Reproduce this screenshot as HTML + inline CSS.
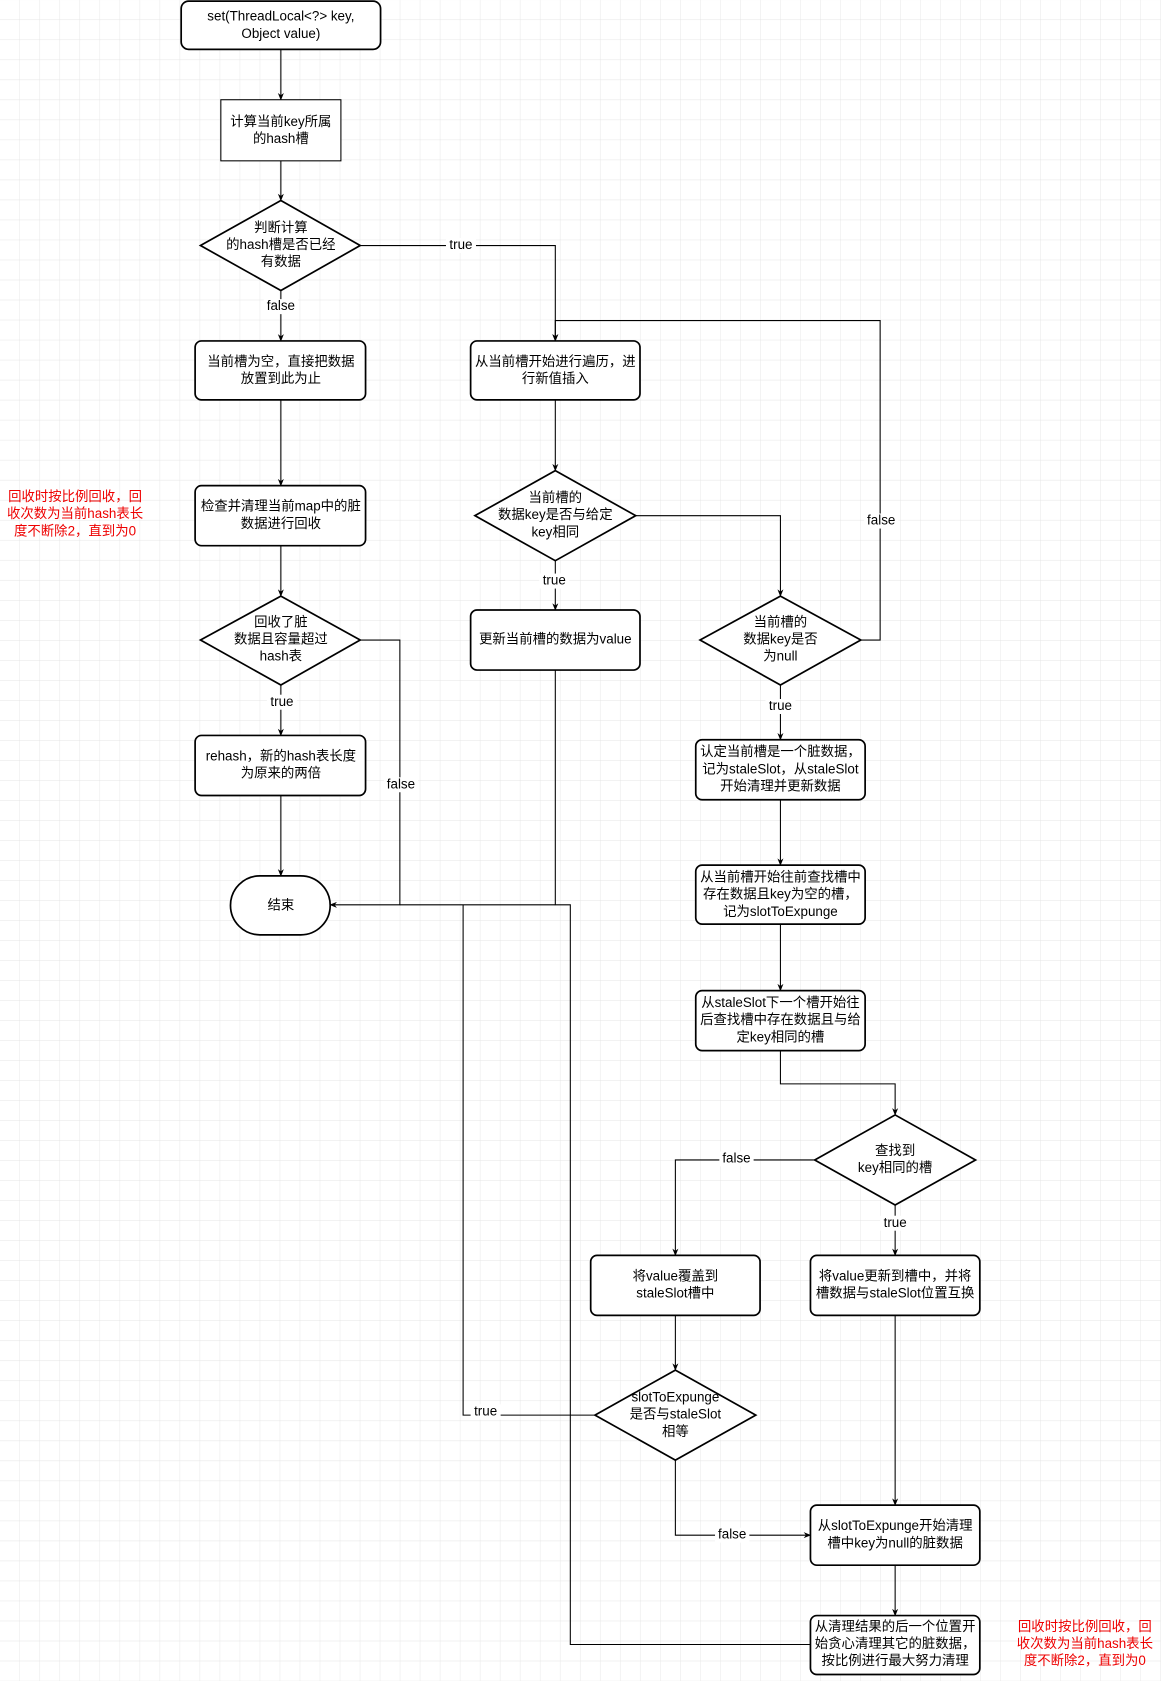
<!DOCTYPE html>
<html><head><meta charset="utf-8"><style>
html,body{margin:0;padding:0;background:#fff;}
svg{display:block;}
text{font-family:"Liberation Sans","Noto Sans CJK SC",sans-serif;font-size:12.5px;fill:#000;text-anchor:middle;dominant-baseline:middle;}
.r{fill:#e00;}
.b{fill:#fff;stroke:#000;stroke-width:1.6;}
.l{fill:none;stroke:#000;stroke-width:1;}
.lb{fill:#fff;}
</style></head><body>
<svg width="1161" height="1681" viewBox="0 0 1083 1568" xmlns="http://www.w3.org/2000/svg">
<defs>
<pattern id="g" width="18.67" height="18.67" patternUnits="userSpaceOnUse"><path d="M18.67 0V18.67H0" fill="none" stroke="#e4e4e4" stroke-width="0.8"/></pattern>
<marker id="a" viewBox="0 0 10 10" refX="9" refY="5" markerWidth="7" markerHeight="7" orient="auto"><path d="M0 1L10 5L0 9L3 5Z" fill="#000"/></marker>
</defs>
<rect width="1083" height="1568" fill="#fff"/>
<rect width="1083" height="1568" fill="url(#g)"/>

<!-- connectors -->
<g class="l" marker-end="url(#a)">
<path d="M262 46V93"/>
<path d="M262 150V187"/>
<path d="M262 271V318"/>
<path d="M336 229H518V318"/>
<path d="M262 373V453"/>
<path d="M262 509V556"/>
<path d="M262 639V686"/>
<path d="M262 742V817"/>
<path d="M336 597H373V844H308"/>
<path d="M518 373V439"/>
<path d="M518 523V569"/>
<path d="M593 481H728V556"/>
<path d="M803 597H821V299H518V318"/>
<path d="M728 639V690"/>
<path d="M728 746V807"/>
<path d="M728 862V924"/>
<path d="M728 980V1011H835V1040"/>
<path d="M760 1082H630V1171"/>
<path d="M835 1124V1171"/>
<path d="M630 1227V1278"/>
<path d="M630 1362V1432H756"/>
<path d="M835 1227V1404"/>
<path d="M835 1460V1507"/>
</g>
<g class="l">
<path d="M518 625V844H532V1534H756"/>
<path d="M518 844H373"/>
<path d="M432 844V1320H555"/>
</g>

<!-- shapes -->
<rect class="b" x="169" y="1" width="186" height="45" rx="7"/>
<rect class="b" x="206" y="93" width="112" height="57" style="stroke-width:1"/>
<polygon class="b" points="262,187 336,229 262,271 187,229"/>
<rect class="b" x="182" y="318" width="159" height="55" rx="6"/>
<rect class="b" x="182" y="453" width="159" height="56" rx="6"/>
<polygon class="b" points="262,556 336,597 262,639 187,597"/>
<rect class="b" x="182" y="686" width="159" height="56" rx="6"/>
<rect class="b" x="215" y="817" width="93" height="55" rx="27.5"/>
<rect class="b" x="439" y="318" width="158" height="55" rx="6"/>
<polygon class="b" points="518,439 593,481 518,523 443,481"/>
<rect class="b" x="439" y="569" width="158" height="56" rx="6"/>
<polygon class="b" points="728,556 803,597 728,639 653,597"/>
<rect class="b" x="649" y="690" width="158" height="56" rx="6"/>
<rect class="b" x="649" y="807" width="158" height="55" rx="6"/>
<rect class="b" x="649" y="924" width="158" height="56" rx="6"/>
<polygon class="b" points="835,1040 910,1082 835,1124 760,1082"/>
<rect class="b" x="551" y="1171" width="158" height="56" rx="6"/>
<rect class="b" x="756" y="1171" width="158" height="56" rx="6"/>
<polygon class="b" points="630,1278 705,1320 630,1362 555,1320"/>
<rect class="b" x="756" y="1404" width="158" height="56" rx="6"/>
<rect class="b" x="756" y="1507" width="158" height="55" rx="6"/>

<!-- edge labels -->
<rect class="lb" x="416" y="222" width="28" height="14"/><text x="430" y="229">true</text>
<rect class="lb" x="246" y="279" width="32" height="14"/><text x="262" y="286">false</text>
<rect class="lb" x="358" y="725" width="32" height="14"/><text x="374" y="732">false</text>
<rect class="lb" x="249" y="648" width="28" height="14"/><text x="263" y="655">true</text>
<rect class="lb" x="503" y="535" width="28" height="14"/><text x="517" y="542">true</text>
<rect class="lb" x="806" y="479" width="32" height="14"/><text x="822" y="486">false</text>
<rect class="lb" x="714" y="652" width="28" height="14"/><text x="728" y="659">true</text>
<rect class="lb" x="671" y="1074" width="32" height="14"/><text x="687" y="1081">false</text>
<rect class="lb" x="821" y="1134" width="28" height="14"/><text x="835" y="1141">true</text>
<rect class="lb" x="439" y="1310" width="28" height="14"/><text x="453" y="1317">true</text>
<rect class="lb" x="667" y="1425" width="32" height="14"/><text x="683" y="1432">false</text>

<!-- node text -->
<text x="262" y="16">set(ThreadLocal&lt;?&gt; key,</text><text x="262" y="32">Object value)</text>
<text x="262" y="114">计算当前key所属</text><text x="262" y="130">的hash槽</text>
<text x="262" y="213">判断计算</text><text x="262" y="229">的hash槽是否已经</text><text x="262" y="245">有数据</text>
<text x="262" y="338">当前槽为空，直接把数据</text><text x="262" y="354">放置到此为止</text>
<text x="262" y="473">检查并清理当前map中的脏</text><text x="262" y="489">数据进行回收</text>
<text x="262" y="581">回收了脏</text><text x="262" y="597">数据且容量超过</text><text x="262" y="613">hash表</text>
<text x="262" y="706">rehash，新的hash表长度</text><text x="262" y="722">为原来的两倍</text>
<text x="262" y="845">结束</text>
<text x="518" y="338">从当前槽开始进行遍历，进</text><text x="518" y="354">行新值插入</text>
<text x="518" y="465">当前槽的</text><text x="518" y="481">数据key是否与给定</text><text x="518" y="497">key相同</text>
<text x="518" y="597">更新当前槽的数据为value</text>
<text x="728" y="581">当前槽的</text><text x="728" y="597">数据key是否</text><text x="728" y="613">为null</text>
<text x="728" y="702">认定当前槽是一个脏数据，</text><text x="728" y="718">记为staleSlot，从staleSlot</text><text x="728" y="734">开始清理并更新数据</text>
<text x="728" y="819">从当前槽开始往前查找槽中</text><text x="728" y="835">存在数据且key为空的槽，</text><text x="728" y="851">记为slotToExpunge</text>
<text x="728" y="936">从staleSlot下一个槽开始往</text><text x="728" y="952">后查找槽中存在数据且与给</text><text x="728" y="968">定key相同的槽</text>
<text x="835" y="1074">查找到</text><text x="835" y="1090">key相同的槽</text>
<text x="630" y="1191">将value覆盖到</text><text x="630" y="1207">staleSlot槽中</text>
<text x="835" y="1191">将value更新到槽中，并将</text><text x="835" y="1207">槽数据与staleSlot位置互换</text>
<text x="630" y="1304">slotToExpunge</text><text x="630" y="1320">是否与staleSlot</text><text x="630" y="1336">相等</text>
<text x="835" y="1424">从slotToExpunge开始清理</text><text x="835" y="1440">槽中key为null的脏数据</text>
<text x="835" y="1518">从清理结果的后一个位置开</text><text x="835" y="1534">始贪心清理其它的脏数据，</text><text x="835" y="1550">按比例进行最大努力清理</text>

<!-- red notes -->
<text class="r" x="70" y="464">回收时按比例回收，回</text><text class="r" x="70" y="480">收次数为当前hash表长</text><text class="r" x="70" y="496">度不断除2，直到为0</text>
<text class="r" x="1012" y="1518">回收时按比例回收，回</text><text class="r" x="1012" y="1534">收次数为当前hash表长</text><text class="r" x="1012" y="1550">度不断除2，直到为0</text>
</svg>
</body></html>
